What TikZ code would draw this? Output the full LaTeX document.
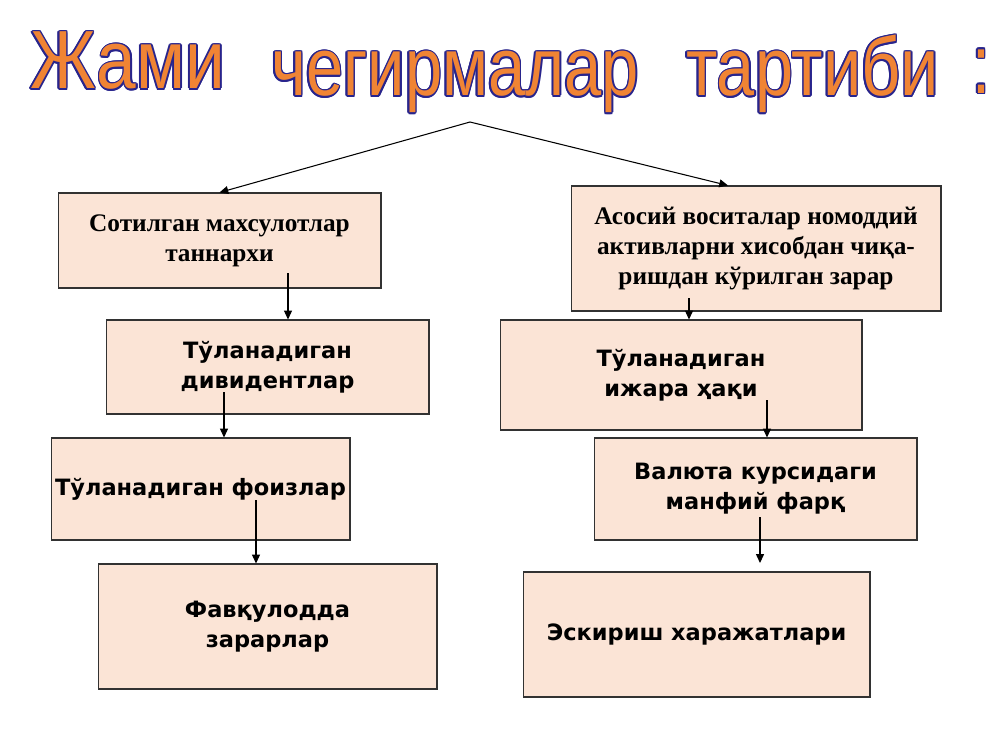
\documentclass[tikz,border=0pt]{standalone}
\usepackage{fontspec}
\usepackage{graphicx}
\setmainfont{Liberation Serif}
\newfontfamily\boxfont{DejaVu Sans}
\newfontfamily\artfont{Liberation Sans}
\usetikzlibrary{arrows.meta,calc}

\definecolor{boxpeach}{RGB}{251,228,214}
\definecolor{boxline}{RGB}{50,50,50}
\definecolor{artorange}{RGB}{240,132,52}
\definecolor{artnavy}{RGB}{40,36,140}

% title word: navy copies round it, then the orange fill
\newcommand\artword[4]{%
	\foreach \a in {0,30,...,330}
		\node[artedge,shift={(\a:0.9pt)}] at (#2) {\resizebox{#3}{\height}{#4}};
	\node[artfill] (#1) at (#2) {\resizebox{#3}{\height}{#4}};}

\begin{document}
\begin{tikzpicture}[x=0.02cm,y=-0.02cm,
	artfill/.style={anchor=base west,inner sep=0pt,font=\artfont\fontsize{47}{47}\selectfont,text=artorange},
	artedge/.style={artfill,text=artnavy},
	box/.style={draw=boxline,line width=0.6pt,fill=boxpeach,align=center,inner sep=0pt},
	serifbox/.style={box,font=\bfseries\fontsize{14.4}{17}\selectfont},
	sansbox/.style={box,font=\boxfont\bfseries\fontsize{12.8}{17}\selectfont},
	arr/.style={-{Triangle[length=5pt,width=4.5pt]},line width=0.6pt}]

	\useasboundingbox (0,0) rectangle (1000,750);

	% title

	\artword{t1}{30,89}{3.9cm}{Жами}
	\artword{t2}{271,96}{7.35cm}{чегирмалар}
	\artword{t3}{686,96}{5.05cm}{тартиби}
	\artword{t4}{972,93}{0.36cm}{:}

	% left column

	\node[serifbox,minimum width=6.46cm,minimum height=1.9cm] (b1) at (219.5,240.5)
		{Сотилган махсулотлар\\таннархи};
	\node[sansbox,minimum width=6.46cm,minimum height=1.88cm] (b2) at (267.5,367)
		{Тўланадиган\\дивидентлар};
	\node[sansbox,minimum width=5.98cm,minimum height=2.04cm] (b3) at (200.5,489)
		{Тўланадиган фоизлар};
	\node[sansbox,minimum width=6.78cm,minimum height=2.5cm] (b4) at (267.5,626.5)
		{Фавқулодда\\зарарлар};

	% right column

	\node[serifbox,minimum width=7.4cm,minimum height=2.5cm] (b5) at (756,248.5)
		{Асосий воситалар номоддий\\активларни хисобдан чиқа-\\ришдан кўрилган зарар};
	\node[sansbox,minimum width=7.24cm,minimum height=2.2cm] (b6) at (681,375)
		{Тўланадиган\\ижара ҳақи};
	\node[sansbox,minimum width=6.46cm,minimum height=2.04cm] (b7) at (755.5,489)
		{Валюта курсидаги\\манфий фарқ};
	\node[sansbox,minimum width=6.94cm,minimum height=2.5cm] (b8) at (696.5,634.5)
		{Эскириш харажатлари};

	% arrows

	\coordinate (apex) at (470,122);
	\draw[arr] (apex) -- (b1.north);
	\draw[arr] (apex) -- ($(b5.north)+(-28,0)$);

	\coordinate (s1) at (288,273);
	\coordinate (s2) at (224,392);
	\coordinate (s3) at (256,500);
	\coordinate (s4) at (689,298);
	\coordinate (s5) at (767,400);
	\coordinate (s6) at (760,517);
	\coordinate (e6) at (760,563);

	\draw[arr] (s1) -- (s1 |- b2.north);
	\draw[arr] (s2) -- (s2 |- b3.north);
	\draw[arr] (s3) -- (s3 |- b4.north);
	\draw[arr] (s4) -- (s4 |- b6.north);
	\draw[arr] (s5) -- (s5 |- b7.north);
	\draw[arr] (s6) -- (e6);

\end{tikzpicture}
\end{document}
